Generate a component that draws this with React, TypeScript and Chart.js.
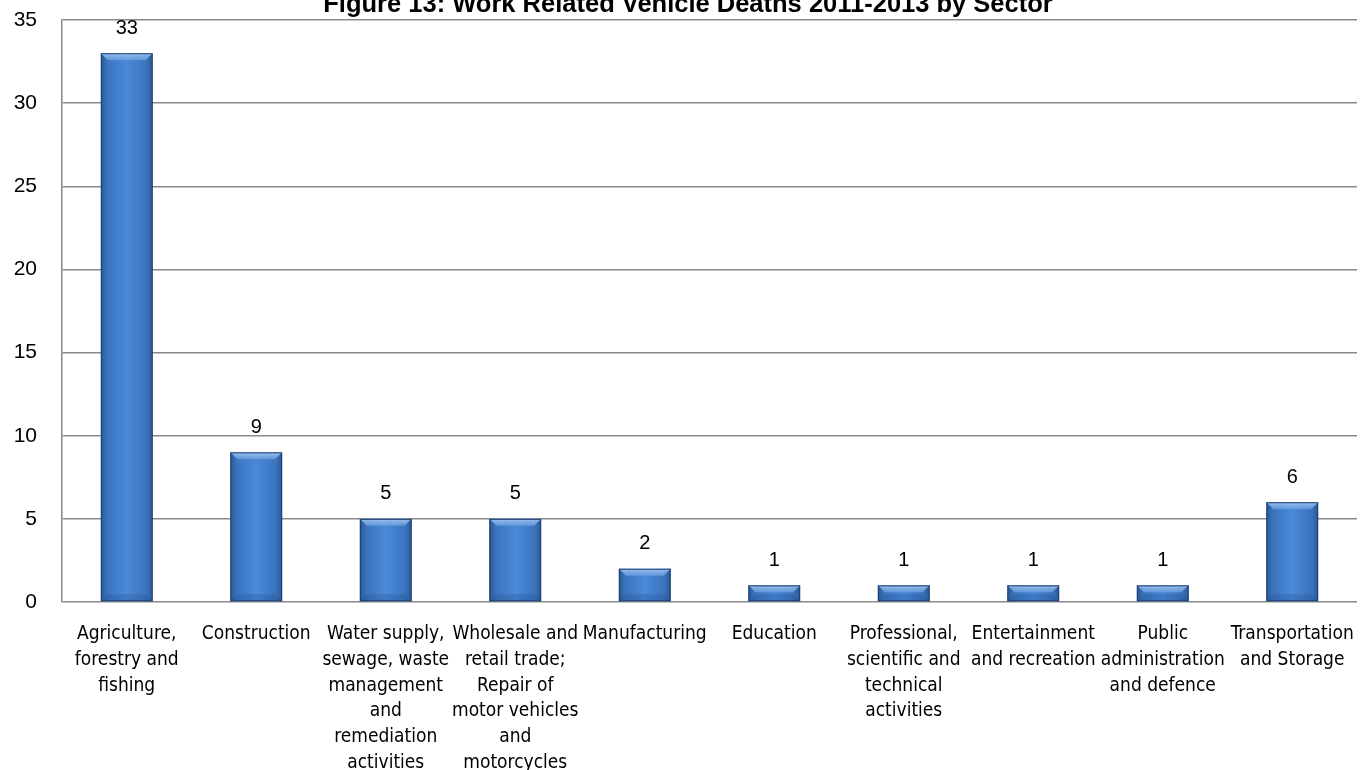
import React, { useEffect, useRef } from "react";
import { Chart, registerables } from "chart.js";

Chart.register(...registerables);

const TITLE = "Figure 13: Work Related Vehicle Deaths 2011-2013 by Sector";

const categories: string[][] = [
  ["Agriculture,", "forestry and", "fishing"],
  ["Construction"],
  ["Water supply,", "sewage, waste", "management", "and", "remediation", "activities"],
  ["Wholesale and", "retail trade;", "Repair of", "motor vehicles", "and", "motorcycles"],
  ["Manufacturing"],
  ["Education"],
  ["Professional,", "scientific and", "technical", "activities"],
  ["Entertainment", "and recreation"],
  ["Public", "administration", "and defence"],
  ["Transportation", "and Storage"],
];

const deaths: number[] = [33, 9, 5, 5, 2, 1, 1, 1, 1, 6];

const yMin = 0;
const yMax = 35;
const yStep = 5;

const NARROW = "'Liberation Sans Narrow', 'DejaVu Sans Condensed', 'Liberation Sans', sans-serif";
const SANS = "'Liberation Sans', Arial, sans-serif";

const titlePlugin = {
  id: "clippedTitle",
  afterDraw(chart: any) {
    const ctx = chart.ctx;
    ctx.save();
    ctx.font = `bold 25.5px ${SANS}`;
    ctx.fillStyle = "#000000";
    ctx.textAlign = "center";
    ctx.textBaseline = "alphabetic";
    ctx.fillText(TITLE, 688, 12);
    ctx.restore();
  },
};

const barStylePlugin = {
  id: "barBevel",
  afterDatasetsDraw(chart: any) {
    const ctx = chart.ctx;
    const meta = chart.getDatasetMeta(0);
    ctx.save();
    meta.data.forEach((bar: any, i: number) => {
      const { x, y, base, width } = bar.getProps(["x", "y", "base", "width"], true);
      const l = x - width / 2;
      const r = x + width / 2;
      const h = base - y;
      const bev = Math.min(7, h / 2);
      const g = ctx.createLinearGradient(0, y, 0, y + bev);
      g.addColorStop(0, "rgba(170,205,245,0.85)");
      g.addColorStop(1, "rgba(110,160,225,0.7)");
      ctx.fillStyle = g;
      ctx.beginPath();
      ctx.moveTo(l, y);
      ctx.lineTo(r, y);
      ctx.lineTo(r - bev, y + bev);
      ctx.lineTo(l + bev, y + bev);
      ctx.closePath();
      ctx.fill();
      ctx.fillStyle = "rgba(20,50,100,0.18)";
      ctx.beginPath();
      ctx.moveTo(l, base);
      ctx.lineTo(r, base);
      ctx.lineTo(r - bev, base - bev);
      ctx.lineTo(l + bev, base - bev);
      ctx.closePath();
      ctx.fill();
      ctx.strokeStyle = "#1d3f72";
      ctx.lineWidth = 1;
      ctx.strokeRect(l + 0.5, y + 0.5, width - 1, h - 1);
      ctx.font = `20px ${SANS}`;
      ctx.fillStyle = "#000000";
      ctx.textAlign = "center";
      ctx.textBaseline = "middle";
      ctx.fillText(String(deaths[i]), x, y - 25);
    });
    ctx.restore();
  },
};

export default function App() {
  const canvasRef = useRef<HTMLCanvasElement | null>(null);

  useEffect(() => {
    document.body.style.margin = "0";
    const canvas = canvasRef.current;
    if (!canvas) return;
    const chart = new Chart(canvas, {
      type: "bar",
      data: {
        labels: categories,
        datasets: [
          {
            data: deaths,
            barPercentage: 0.8,
            categoryPercentage: 0.5,
            backgroundColor: (c: any) => {
              const ch = c.chart;
              const area = ch.chartArea;
              if (!area) return "#3d78c6";
              const n = categories.length;
              const cw = area.width / n;
              const bw = cw * 0.4;
              const cx = area.left + cw * (c.dataIndex + 0.5);
              const g = ch.ctx.createLinearGradient(cx - bw / 2, 0, cx + bw / 2, 0);
              g.addColorStop(0, "#2a5892");
              g.addColorStop(0.12, "#3a73bd");
              g.addColorStop(0.5, "#4a8ad9");
              g.addColorStop(0.88, "#3a73bd");
              g.addColorStop(1, "#2a5892");
              return g;
            },
            borderWidth: 0,
          },
        ],
      },
      options: {
        animation: false,
        responsive: false,
        devicePixelRatio: 1,
        layout: { padding: { top: 20, right: 10, left: 0, bottom: 0 } },
        plugins: {
          legend: { display: false },
          title: { display: false },
          tooltip: { enabled: false },
        },
        scales: {
          x: {
            grid: { display: false, drawTicks: false },
            border: { display: false },
            ticks: {
              color: "#000000",
              font: { family: NARROW, size: 19, lineHeight: 1.36 },
              padding: 19,
              maxRotation: 0,
              minRotation: 0,
              autoSkip: false,
            },
            afterFit: (s: any) => {
              s.height = 168;
              s.paddingLeft = 0;
              s.paddingRight = 0;
            },
          },
          y: {
            min: yMin,
            max: yMax,
            grid: { color: "#8a8a8a", lineWidth: 1.5, drawTicks: false },
            border: { display: true, color: "#8a8a8a", width: 1.5 },
            ticks: {
              stepSize: yStep,
              color: "#000000",
              font: { family: SANS, size: 21 },
              padding: 25,
            },
            afterFit: (s: any) => {
              s.width = 62;
              s.paddingTop = 0;
              s.paddingBottom = 0;
            },
          },
        },
      },
      plugins: [barStylePlugin, titlePlugin],
    });
    return () => chart.destroy();
  }, []);

  return (
    <div style={{ width: 1367, height: 770, background: "#ffffff" }}>
      <canvas ref={canvasRef} width={1367} height={770} style={{ display: "block" }} />
    </div>
  );
}
